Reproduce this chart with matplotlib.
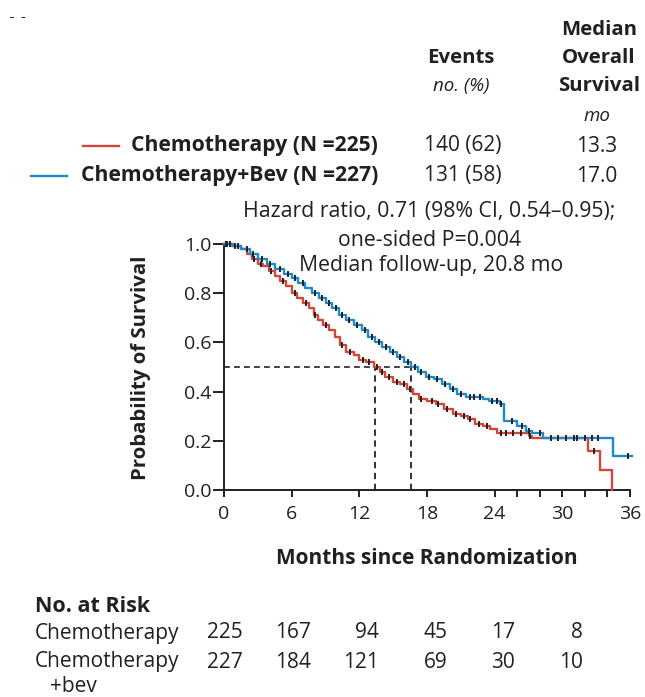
import numpy as np
import matplotlib
matplotlib.use("Agg")
import matplotlib.pyplot as plt
from matplotlib.transforms import Bbox, TransformedBbox

plt.rcParams['font.family'] = ['Open Sans', 'DejaVu Sans']

# ---------------- data ----------------
groups = ["Chemotherapy (N =225)", "Chemotherapy+Bev (N =227)"]
events = ["140 (62)", "131 (58)"]
medians = ["13.3", "17.0"]
median_months = [13.4, 16.6]

chemo_t = [0, 0.8, 1.5, 2.0, 2.5, 3.0, 3.5, 4.0, 4.5, 5.0, 5.5, 6.0, 6.5, 7.0, 7.5, 8.0,
           8.3, 8.8, 9.3, 9.8, 10.3, 10.8, 11.5, 12.0, 12.6, 13.3, 13.8, 14.3, 15.0, 15.6,
           16.2, 16.8, 17.3, 18.0, 18.8, 19.5, 20.3, 21.0, 21.6, 22.3, 23.0, 23.6, 24.2,
           27.0, 27.3, 32.3, 33.3, 34.4]
chemo_s = [1.0, 0.99, 0.98, 0.96, 0.94, 0.92, 0.91, 0.89, 0.87, 0.85, 0.83, 0.80, 0.78,
           0.76, 0.74, 0.71, 0.69, 0.67, 0.65, 0.62, 0.59, 0.56, 0.55, 0.53, 0.52, 0.50,
           0.48, 0.46, 0.44, 0.43, 0.41, 0.39, 0.37, 0.36, 0.35, 0.33, 0.31, 0.30, 0.29,
           0.27, 0.26, 0.25, 0.23, 0.22, 0.21, 0.16, 0.08, 0.0]

bev_t = [0, 0.7, 1.5, 2.3, 3.0, 3.8, 4.5, 5.3, 6.0, 6.6, 7.2, 7.8, 8.4, 9.0, 9.6, 10.2,
         10.8, 11.5, 12.2, 12.8, 13.4, 14.0, 14.7, 15.3, 16.0, 16.6, 17.2, 17.9, 18.6,
         19.3, 20.0, 20.7, 21.5, 23.0, 23.5, 24.5, 24.8, 26.0, 26.8, 27.3, 28.3, 34.5, 36.2]
bev_s = [1.0, 0.99, 0.98, 0.96, 0.94, 0.92, 0.90, 0.88, 0.86, 0.84, 0.82, 0.80, 0.78,
         0.76, 0.74, 0.71, 0.69, 0.67, 0.65, 0.62, 0.60, 0.58, 0.56, 0.54, 0.52, 0.50,
         0.48, 0.46, 0.45, 0.43, 0.41, 0.39, 0.38, 0.37, 0.36, 0.35, 0.28, 0.26, 0.24,
         0.23, 0.21, 0.14, 0.14]

chemo_cens = [0.3, 1.2, 2.7, 3.3, 4.2, 5.2, 6.3, 7.3, 8.1, 9.0, 10.5, 11.2, 12.3, 12.9,
              13.6, 14.0, 14.6, 15.3, 16.0, 16.5, 17.5, 18.4, 19.0, 19.8, 20.6, 21.3,
              21.8, 22.6, 23.3, 24.6, 25.0, 25.6, 26.3, 27.1, 32.8]
bev_cens = [0.2, 0.5, 1.0, 2.0, 2.6, 3.4, 4.1, 5.0, 5.7, 6.3, 7.0, 8.1, 8.7, 9.3, 9.9,
            10.5, 11.1, 11.8, 12.5, 13.1, 13.7, 14.4, 15.0, 15.6, 16.3, 16.9, 17.5, 18.2,
            18.9, 19.6, 20.3, 21.0, 21.8, 22.2, 22.7, 23.8, 24.2, 24.6, 25.5, 26.4, 27.0,
            28.0, 29.0, 29.6, 30.3, 31.0, 31.3, 32.0, 32.6, 33.2, 35.8]

risk_months = [0, 6, 12, 18, 24, 30]
risk_chemo = [225, 167, 94, 45, 17, 8]
risk_bev = [227, 184, 121, 69, 30, 10]

RED = "#d2473a"
BLUE = "#1e8bc8"
TXT = "#231f20"

fig = plt.figure(figsize=(6.45, 6.97), dpi=100)
W, H = 645, 697
def fx(px):
    return px / W
def fy(py):
    return 1 - py / H

ax = fig.add_axes([fx(224), fy(490), fx(630) - fx(224), fy(244) - fy(490)])

def step_val(ts, ss, t):
    i = np.searchsorted(ts, t, side='right') - 1
    return np.asarray(ss)[i]

for ts, ss, col, cens in [(chemo_t, chemo_s, RED, chemo_cens), (bev_t, bev_s, BLUE, bev_cens)]:
    ax.step(ts, ss, where='post', color=col, lw=1.7, clip_on=False, zorder=3)
    cy = [step_val(ts, ss, c) for c in cens]
    ax.plot(cens, cy, ls='none', marker='|', ms=4, mew=1.4, color='#222222', zorder=4, clip_on=False)

# median dashed lines
ax.plot([0, median_months[1]], [0.5, 0.5], ls=(0, (3.5, 2.5)), color='#222222', lw=1.2, zorder=2)
for m in median_months:
    ax.plot([m, m], [0, 0.5], ls=(0, (3.5, 2.5)), color='#222222', lw=1.3, zorder=2)

ax.set_xlim(0, 36)
ax.set_ylim(0, 1.0)
ax.set_xticks([0, 6, 12, 18, 24, 30, 36])
ax.set_xticks([26, 28, 32, 34], minor=True)
ax.set_yticks([0, 0.2, 0.4, 0.6, 0.8, 1.0])
ax.set_yticklabels(["0.0", "0.2", "0.4", "0.6", "0.8", "1.0"])
for s in ['top', 'right']:
    ax.spines[s].set_visible(False)
for s in ['left', 'bottom']:
    ax.spines[s].set_linewidth(1.4)
    ax.spines[s].set_color('#231f20')
ax.tick_params(axis='both', which='both', direction='out', color='#231f20', width=1.4,
               labelsize=14, labelcolor=TXT)
ax.tick_params(axis='y', length=8, pad=1)
ax.tick_params(axis='x', which='both', length=5, pad=6)

fig.text(fx(141), fy(368), "Probability of Survival", rotation=90, ha='center', va='center',
         fontsize=14.7, fontweight='bold', color=TXT)
fig.text(fx(427), fy(558), "Months since Randomization", ha='center', va='center',
         fontsize=15, fontweight='bold', color=TXT)

# header
hfs = 14.7
fig.text(fx(599), fy(30), "Median", ha='center', va='center', fontsize=hfs, fontweight='bold', color=TXT)
fig.text(fx(599), fy(58), "Overall", ha='center', va='center', fontsize=hfs, fontweight='bold', color=TXT)
fig.text(fx(599), fy(86), "Survival", ha='center', va='center', fontsize=hfs, fontweight='bold', color=TXT)
fig.text(fx(597), fy(116), "mo", ha='center', va='center', fontsize=13.5, style='italic', color=TXT)
fig.text(fx(461), fy(58), "Events", ha='center', va='center', fontsize=hfs, fontweight='bold', color=TXT)
fig.text(fx(461), fy(86), "no. (%)", ha='center', va='center', fontsize=13.5, style='italic', color=TXT)

rows_y = [146, 176]
line_x = [(83, 119), (31, 67)]
for g, e, m, yy, (x0, x1), col in zip(groups, events, medians, rows_y, line_x, [RED, BLUE]):
    fig.add_artist(plt.Line2D([fx(x0), fx(x1)], [fy(yy), fy(yy)], color=col, lw=1.7,
                              transform=fig.transFigure))
    fig.text(fx(378), fy(yy), g, ha='right', va='center', fontsize=15.2, fontweight='bold', color=TXT)
    fig.text(fx(463), fy(yy), e, ha='center', va='center', fontsize=15, color=TXT)
    fig.text(fx(597), fy(yy), m, ha='center', va='center', fontsize=15, color=TXT)

sfs = 15.3
fig.text(fx(429), fy(212), "Hazard ratio, 0.71 (98% CI, 0.54\u20130.95);", ha='center', va='center',
         fontsize=sfs, color=TXT)
fig.text(fx(430), fy(240), "one-sided P=0.004", ha='center', va='center', fontsize=sfs, color=TXT)
fig.text(fx(431), fy(266), "Median follow-up, 20.8 mo", ha='center', va='center', fontsize=sfs, color=TXT)

# panel letter (cropped)
a = fig.text(fx(18), fy(23), "A", ha='center', va='bottom', fontsize=16, fontweight='bold', color=TXT)
a.set_clip_box(TransformedBbox(Bbox([[0, fy(23)], [0.1, fy(17)]]), fig.transFigure))
a.set_clip_on(True)

# number at risk
rfs = 15
fig.text(fx(35), fy(606), "No. at Risk", ha='left', va='center', fontsize=15.5, fontweight='bold', color=TXT)
fig.text(fx(35), fy(633), "Chemotherapy", ha='left', va='center', fontsize=rfs, color=TXT)
fig.text(fx(35), fy(662), "Chemotherapy", ha='left', va='center', fontsize=rfs, color=TXT)
fig.text(fx(50), fy(686), "+bev", ha='left', va='center', fontsize=rfs, color=TXT)
for m, r1, r2 in zip(risk_months, risk_chemo, risk_bev):
    xpx = 224 + m / 36 * 406 + 19 + (m / 6) * 0.4
    fig.text(fx(xpx), fy(633), str(r1), ha='right', va='center', fontsize=rfs, color=TXT)
    fig.text(fx(xpx), fy(662), str(r2), ha='right', va='center', fontsize=rfs, color=TXT)

fig.savefig("out.png", dpi=100)
